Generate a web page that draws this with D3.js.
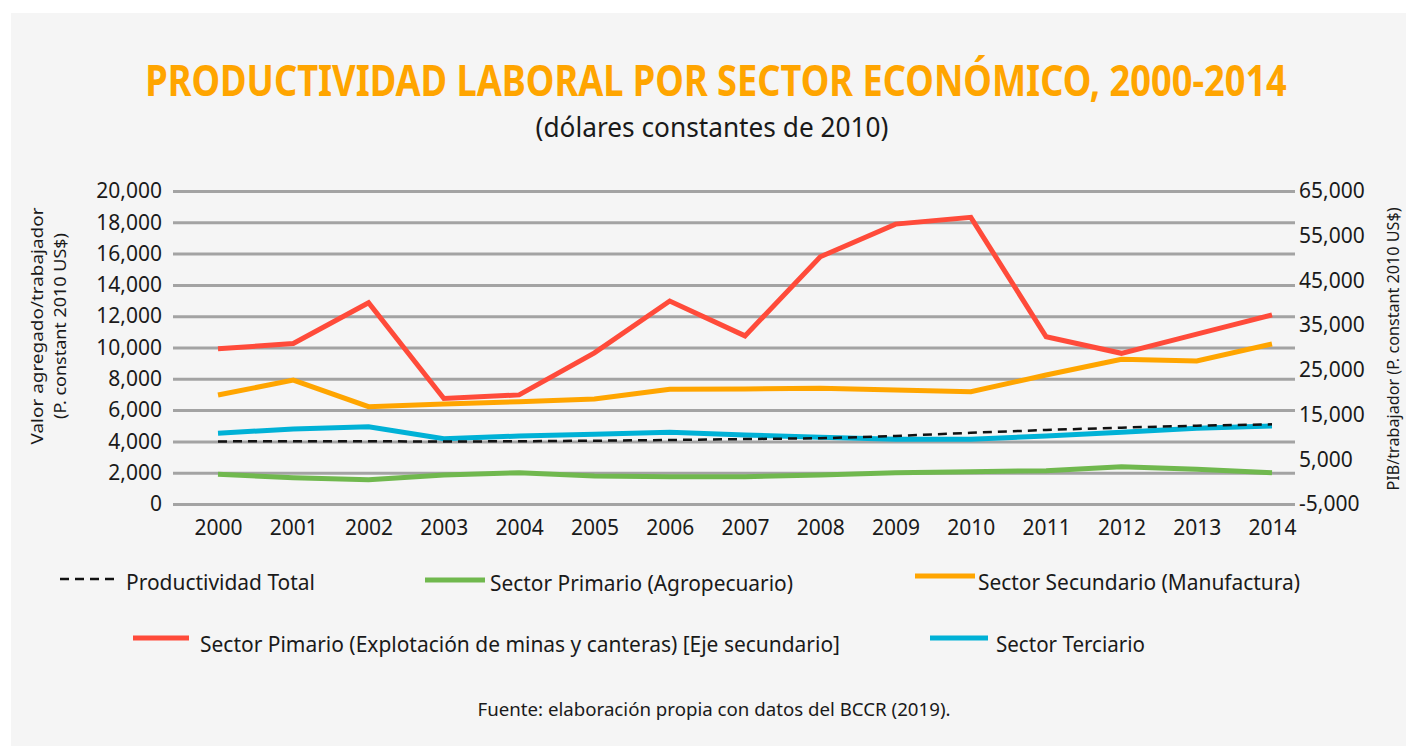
<!DOCTYPE html>
<html>
<head>
<meta charset="utf-8">
<script src="https://cdn.jsdelivr.net/npm/d3@7"></script>
<style>
  html, body { margin: 0; padding: 0; background: #ffffff; }
  svg { display: block; }
</style>
</head>
<body>
<div id="chart"></div>
<script>
// data
var years = [2000, 2001, 2002, 2003, 2004, 2005, 2006, 2007, 2008, 2009, 2010, 2011, 2012, 2013, 2014];
var total = [4000, 4010, 4010, 3990, 4010, 4045, 4090, 4150, 4200, 4345, 4550, 4730, 4880, 5005, 5090];
var primario = [1900, 1680, 1550, 1850, 2000, 1790, 1745, 1745, 1850, 2000, 2065, 2130, 2385, 2215, 2000];
var secundario = [6965, 7920, 6220, 6390, 6540, 6710, 7330, 7350, 7390, 7285, 7180, 8240, 9245, 9140, 10225];
var terciario = [4515, 4800, 4940, 4175, 4345, 4450, 4580, 4410, 4260, 4130, 4130, 4345, 4580, 4835, 4985];
var minas = [29700, 30900, 40000, 18600, 19400, 28800, 40400, 32600, 50300, 57600, 59100, 32400, 28700, 33000, 37300];

var leftTicks = [0, 2000, 4000, 6000, 8000, 10000, 12000, 14000, 16000, 18000, 20000];
var rightTicks = [-5000, 5000, 15000, 25000, 35000, 45000, 55000, 65000];

var width = 1406, height = 746;
var plotLeft = 173, plotRight = 1295, plotTop = 191, plotBottom = 504;
var fontMain = "'Noto Sans', 'Open Sans', sans-serif";

var svg = d3.select("#chart")
    .append("svg")
    .attr("width", width)
    .attr("height", height);

// panel background
svg.append("rect")
    .attr("x", 11)
    .attr("y", 13)
    .attr("width", width - 11)
    .attr("height", height - 13)
    .attr("fill", "#f5f5f5");

var xScale = d3.scalePoint()
    .domain(years)
    .range([218, 1272]);

var yLeft = d3.scaleLinear()
    .domain([0, 20000])
    .range([plotBottom, plotTop]);

var yRight = d3.scaleLinear()
    .domain([-5000, 65000])
    .range([plotBottom, plotTop]);

var fmt = d3.formatLocale({ decimal: ".", thousands: ",", grouping: [3], currency: ["$", ""], minus: "-" }).format(",");

// gridlines + left axis
var leftAxis = svg.append("g")
    .attr("transform", `translate(${plotLeft},0)`)
    .call(d3.axisLeft(yLeft).tickValues(leftTicks).tickFormat(fmt).tickSize(-(plotRight - plotLeft)).tickPadding(11));
leftAxis.select(".domain").remove();
leftAxis.selectAll("line")
    .attr("stroke", "#a3a3a3")
    .attr("stroke-width", 3);
leftAxis.selectAll("text")
    .style("font-family", fontMain)
    .style("font-size", "21px")
    .attr("fill", "#1a1a1a");

// right axis (secondary)
var rightAxis = svg.append("g")
    .attr("transform", `translate(${plotRight},0)`)
    .call(d3.axisRight(yRight).tickValues(rightTicks).tickFormat(fmt).tickSize(0).tickPadding(4));
rightAxis.select(".domain").remove();
rightAxis.selectAll("text")
    .style("font-family", fontMain)
    .style("font-size", "21px")
    .attr("fill", "#1a1a1a");

// x axis labels
var xAxis = svg.append("g")
    .attr("transform", `translate(0,${plotBottom})`)
    .call(d3.axisBottom(xScale).tickSize(0).tickPadding(16));
xAxis.select(".domain").remove();
xAxis.selectAll("text")
    .style("font-family", fontMain)
    .style("font-size", "21px")
    .attr("fill", "#1a1a1a");

// series lines
function drawLine(values, scale, color, widthPx, dash) {
    var line = d3.line()
        .x((d, i) => xScale(years[i]))
        .y(d => scale(d));
    svg.append("path")
        .datum(values)
        .attr("d", line)
        .attr("fill", "none")
        .attr("stroke", color)
        .attr("stroke-width", widthPx)
        .attr("stroke-dasharray", dash || null);
}

drawLine(primario, yLeft, "#70b84e", 5);
drawLine(terciario, yLeft, "#00b1d6", 5);
drawLine(secundario, yLeft, "#ffa500", 5);
drawLine(minas, yRight, "#ff4b3a", 5);
drawLine(total, yLeft, "#111111", 2.5, "9,6");

// squeeze a text horizontally to a target width (the reference uses a condensed face)
function fitText(sel, cx, cy, target) {
    var w = sel.node().getComputedTextLength();
    var k = Math.min(1, target / w);
    sel.attr("x", 0).attr("y", 0)
        .attr("transform", `translate(${cx},${cy}) scale(${k},1)`);
}

// titles
var title = svg.append("text")
    .attr("text-anchor", "middle")
    .style("font-family", fontMain)
    .style("font-weight", "bold")
    .style("font-size", "43px")
    .attr("fill", "#ffa500")
    .text("PRODUCTIVIDAD LABORAL POR SECTOR ECONÓMICO, 2000-2014");
fitText(title, 716, 96, 1142);

var subtitle = svg.append("text")
    .attr("text-anchor", "middle")
    .style("font-family", fontMain)
    .style("font-size", "27px")
    .attr("fill", "#1a1a1a")
    .text("(dólares constantes de 2010)");
fitText(subtitle, 712, 137, 353);

// axis titles
var leftTitle = svg.append("text")
    .attr("transform", "translate(43,326) rotate(-90)")
    .attr("text-anchor", "middle")
    .style("font-family", fontMain)
    .style("font-size", "16px")
    .attr("fill", "#1a1a1a");
leftTitle.append("tspan").attr("x", 0).attr("dy", 0)
    .attr("textLength", 237).attr("lengthAdjust", "spacingAndGlyphs")
    .text("Valor agregado/trabajador");
leftTitle.append("tspan").attr("x", 0).attr("dy", 23)
    .attr("textLength", 186).attr("lengthAdjust", "spacingAndGlyphs")
    .text("(P. constant  2010 US$)");

svg.append("text")
    .attr("transform", "translate(1399,349) rotate(-90)")
    .attr("text-anchor", "middle")
    .attr("textLength", 283)
    .attr("lengthAdjust", "spacingAndGlyphs")
    .style("font-family", fontMain)
    .style("font-size", "16px")
    .attr("fill", "#1a1a1a")
    .text("PIB/trabajador (P. constant 2010 US$)");

// legend
var legendItems = [
    { label: "Productividad Total", color: "#111111", dash: "9,6", w: 2.5, x1: 60, x2: 118, ly: 579, tx: 126, ty: 590, tl: 189 },
    { label: "Sector Primario (Agropecuario)", color: "#70b84e", w: 5, x1: 425, x2: 485, ly: 580, tx: 490, ty: 591, tl: 303 },
    { label: "Sector Secundario (Manufactura)", color: "#ffa500", w: 5, x1: 915, x2: 975, ly: 576, tx: 978, ty: 590, tl: 322 },
    { label: "Sector Pimario (Explotación de minas y canteras) [Eje secundario]", color: "#ff4b3a", w: 5, x1: 133, x2: 189, ly: 638, tx: 200, ty: 652, tl: 640 },
    { label: "Sector Terciario", color: "#00b1d6", w: 5, x1: 930, x2: 988, ly: 638, tx: 996, ty: 652, tl: 149 }
];

var legend = svg.append("g");
legend.selectAll("line")
    .data(legendItems)
    .join("line")
    .attr("x1", d => d.x1)
    .attr("x2", d => d.x2)
    .attr("y1", d => d.ly)
    .attr("y2", d => d.ly)
    .attr("stroke", d => d.color)
    .attr("stroke-width", d => d.w)
    .attr("stroke-dasharray", d => d.dash || null);
legend.selectAll("text")
    .data(legendItems)
    .join("text")
    .attr("x", d => d.tx)
    .attr("y", d => d.ty)
    .attr("textLength", d => d.tl)
    .attr("lengthAdjust", "spacingAndGlyphs")
    .style("font-family", fontMain)
    .style("font-size", "21px")
    .attr("fill", "#1a1a1a")
    .text(d => d.label);

// source note
svg.append("text")
    .attr("x", 714)
    .attr("y", 716)
    .attr("text-anchor", "middle")
    .attr("textLength", 473)
    .attr("lengthAdjust", "spacingAndGlyphs")
    .style("font-family", fontMain)
    .style("font-size", "18px")
    .attr("fill", "#1a1a1a")
    .text("Fuente: elaboración propia con datos del BCCR (2019).");
</script>
</body>
</html>
